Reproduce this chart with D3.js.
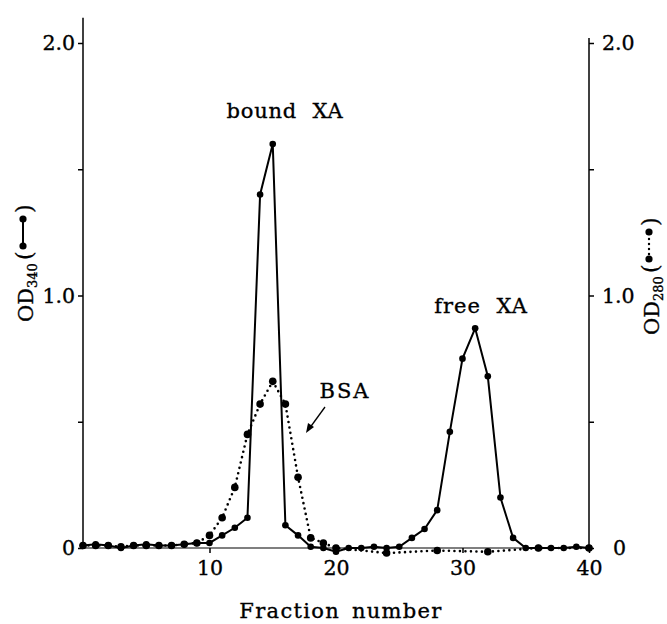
<!DOCTYPE html>
<html>
<head>
<meta charset="utf-8">
<script src="https://cdn.jsdelivr.net/npm/d3@7"></script>
<style>
  body { margin:0; background:#fff; }
  svg { display:block; font-family:"DejaVu Serif", "Liberation Serif", serif; }
  svg text { stroke:#000; stroke-width:0.35px; }
  .axis path.domain { display:none; }
  .axis line { stroke:#000; stroke-width:1.5; }
  .axis text { fill:#000; font-size:20.5px; font-family:"DejaVu Serif", serif; }
</style>
</head>
<body>
<div id="chart-area"></div>
<script>
// fraction number vs optical density, gel filtration of XA + BSA

// OD340 (solid line) - one reading per fraction 0..40
const od340Fractions = d3.range(0, 41);
const od340Values = [
  0.01, 0.015, 0.01, 0.0, 0.01, 0.015, 0.01, 0.01, 0.015, 0.02,
  0.02, 0.05, 0.08, 0.12, 1.40, 1.60, 0.09, 0.05, 0.005, 0.0,
  -0.015, 0.0, 0.0, 0.005, 0.0, 0.005, 0.04, 0.075, 0.15, 0.46,
  0.75, 0.87, 0.68, 0.20, 0.04, 0.0, 0.0, 0.0, 0.0, 0.005,
  0.0
];

// OD280 (dotted line, BSA)
const od280Fractions = [0,1,2,3,4,5,6,7,8,9,10,11,12,13,14,15,16,17,18,19,20,24,28,32,36,40];
const od280Values = [
  0.01, 0.01, 0.01, 0.005, 0.01, 0.01, 0.01, 0.01, 0.015, 0.02,
  0.05, 0.12, 0.24, 0.45, 0.57, 0.66, 0.57, 0.28, 0.04, 0.02,
  0.0, -0.02, -0.01, -0.015, 0.0, 0.0
];

const xTicks = [10, 20, 30, 40];
const yTicks = [0, 0.5, 1.0, 1.5, 2.0];

const W = 667, H = 624;

const svg = d3.select('#chart-area').append('svg')
    .attr('width', W)
    .attr('height', H);

const x = d3.scaleLinear().domain([0, 40]).range([83, 589]);
const y = d3.scaleLinear().domain([0, 2]).range([548, 43]);

const fmt = d => d === 0 ? '0' : (d % 1 === 0 ? d.toFixed(1) : '');

// left axis
const yLeft = svg.append('g')
    .attr('class', 'axis')
    .attr('transform', 'translate(' + x(0) + ',0)')
    .call(d3.axisLeft(y).tickValues(yTicks).tickSize(5).tickPadding(3).tickFormat(fmt));
svg.append('line')
    .attr('x1', x(0)).attr('x2', x(0))
    .attr('y1', y(2.1)).attr('y2', y(0))
    .attr('stroke', '#000').attr('stroke-width', 1.5);

// right axis
const yRight = svg.append('g')
    .attr('class', 'axis')
    .attr('transform', 'translate(' + x(40) + ',0)')
    .call(d3.axisRight(y).tickValues(yTicks).tickSize(5).tickPadding(8).tickFormat(fmt));
yRight.selectAll('.tick').filter(d => d === 0).select('text').attr('x', 24);
svg.append('line')
    .attr('x1', x(40)).attr('x2', x(40))
    .attr('y1', y(2.02)).attr('y2', y(0))
    .attr('stroke', '#000').attr('stroke-width', 1.5);

// bottom axis
const xAxis = svg.append('g')
    .attr('class', 'axis')
    .attr('transform', 'translate(0,' + y(0) + ')')
    .call(d3.axisBottom(x).tickValues(xTicks).tickSize(5).tickPadding(7));
svg.append('line')
    .attr('x1', x(0)).attr('x2', x(40))
    .attr('y1', y(0)).attr('y2', y(0))
    .attr('stroke', '#000').attr('stroke-width', 1.2);

// x axis title
svg.append('text')
    .attr('x', 341)
    .attr('y', 618)
    .attr('text-anchor', 'middle')
    .attr('font-size', '21px')
    .attr('letter-spacing', '1.3px')
    .attr('word-spacing', '4px')
    .text('Fraction number');

// series
const od280 = od280Fractions.map((f, i) => ({ f: f, v: od280Values[i] }));
const od340 = od340Fractions.map((f, i) => ({ f: f, v: od340Values[i] }));

const line = d3.line().x(d => x(d.f)).y(d => y(d.v));

svg.append('path')
    .datum(od280)
    .attr('d', line)
    .attr('fill', 'none')
    .attr('stroke', '#000')
    .attr('stroke-width', 2.6)
    .attr('stroke-linecap', 'round')
    .attr('stroke-dasharray', '0,5.5');

svg.append('path')
    .datum(od340)
    .attr('d', line)
    .attr('fill', 'none')
    .attr('stroke', '#000')
    .attr('stroke-width', 2);

svg.selectAll('circle.bsa')
    .data(od280)
    .enter().append('circle')
    .attr('class', 'bsa')
    .attr('cx', d => x(d.f))
    .attr('cy', d => y(d.v))
    .attr('r', 3.8)
    .attr('fill', '#000');

svg.selectAll('circle.xa')
    .data(od340)
    .enter().append('circle')
    .attr('class', 'xa')
    .attr('cx', d => x(d.f))
    .attr('cy', d => y(d.v))
    .attr('r', 3.3)
    .attr('fill', '#000');

// annotations
svg.append('text')
    .attr('x', 285).attr('y', 118)
    .attr('text-anchor', 'middle')
    .attr('font-size', '21px')
    .attr('letter-spacing', '0.8px')
    .attr('word-spacing', '8px')
    .text('bound XA');

svg.append('text')
    .attr('x', 481).attr('y', 313)
    .attr('text-anchor', 'middle')
    .attr('font-size', '21px')
    .attr('letter-spacing', '1px')
    .attr('word-spacing', '8px')
    .text('free XA');

svg.append('text')
    .attr('x', 345).attr('y', 398)
    .attr('text-anchor', 'middle')
    .attr('font-size', '21px')
    .attr('letter-spacing', '2px')
    .text('BSA');

// arrow pointing at the BSA curve
svg.append('line')
    .attr('x1', 325).attr('y1', 407)
    .attr('x2', 309).attr('y2', 429)
    .attr('stroke', '#000').attr('stroke-width', 1.3);
svg.append('path')
    .attr('d', 'M306,433 L308,423 L314,427 Z')
    .attr('fill', '#000');

// rotated axis titles with legend glyphs
function axisTitle(tx, ty, sub, dotted) {
  const g = svg.append('g')
      .attr('transform', 'translate(' + tx + ',' + ty + ') rotate(-90)');
  const t = g.append('text')
      .attr('x', 0).attr('y', 0)
      .attr('font-size', '21px');
  t.append('tspan').text('OD');
  t.append('tspan')
      .attr('font-size', '13px')
      .attr('dy', 4)
      .text(sub);
  g.append('text')
      .attr('x', 62).attr('y', -1)
      .attr('font-size', '22px')
      .text('(');
  g.append('text')
      .attr('x', 109).attr('y', -1)
      .attr('font-size', '22px')
      .text(')');
  g.append('line')
      .attr('x1', 76).attr('x2', 103)
      .attr('y1', -10).attr('y2', -10)
      .attr('stroke', '#000')
      .attr('stroke-width', dotted ? 2.4 : 2)
      .attr('stroke-linecap', 'round')
      .attr('stroke-dasharray', dotted ? '0,5' : null);
  g.selectAll('circle')
      .data([76, 103])
      .enter().append('circle')
      .attr('cx', d => d)
      .attr('cy', -10)
      .attr('r', 3.6)
      .attr('fill', '#000');
}

axisTitle(33, 322, '340', false);
axisTitle(659, 335, '280', true);
</script>
</body>
</html>
